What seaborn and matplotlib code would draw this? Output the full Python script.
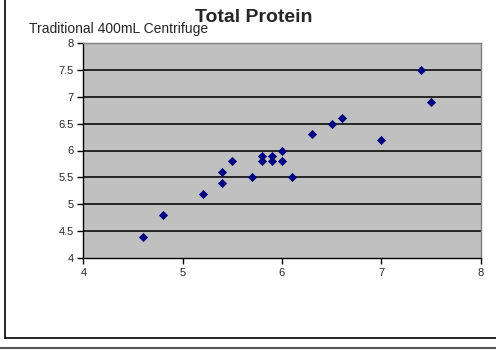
import matplotlib
matplotlib.use("Agg")
import matplotlib.pyplot as plt
import seaborn as sns
import pandas as pd
from matplotlib.lines import Line2D

traditional = [4.6, 4.8, 5.2, 5.4, 5.4, 5.5, 5.7, 5.8, 5.8, 5.9, 5.9, 6.0, 6.0, 6.1, 6.3, 6.5, 6.6, 7.0, 7.4, 7.5]
other = [4.4, 4.8, 5.2, 5.6, 5.4, 5.8, 5.5, 5.9, 5.8, 5.9, 5.8, 6.0, 5.8, 5.5, 6.3, 6.5, 6.6, 6.2, 7.5, 6.9]
x_ticks = [4, 5, 6, 7, 8]
y_ticks = [4, 4.5, 5, 5.5, 6, 6.5, 7, 7.5, 8]
y_tick_labels = ["4", "4.5", "5", "5.5", "6", "6.5", "7", "7.5", "8"]

sns.set_style("white")
plt.rcParams['font.family'] = ['Liberation Sans', 'DejaVu Sans']

df = pd.DataFrame({"x": traditional, "y": other})

fig = plt.figure(figsize=(4.96, 3.5), dpi=100)
ax = fig.add_axes([0.168, 0.262, 0.801, 0.616])
ax.set_facecolor("#C0C0C0")

sns.scatterplot(data=df, x="x", y="y", ax=ax, marker="D", s=17, color="#000080",
                edgecolor="#000080", linewidth=0.5, zorder=3)

ax.set_xlim(4, 8)
ax.set_ylim(4, 8)
ax.set_xticks(x_ticks)
ax.set_xticklabels([str(t) for t in x_ticks])
ax.set_yticks(y_ticks)
ax.set_yticklabels(y_tick_labels)
ax.set_xlabel("")
ax.set_ylabel("")
ax.grid(False)
for yv in y_ticks[1:-1]:
    ax.axhline(yv, color="#1a1a1a", linewidth=1.3, zorder=1)

for s in ["left", "bottom"]:
    ax.spines[s].set_color("black")
    ax.spines[s].set_linewidth(1.0)
for s in ["top", "right"]:
    ax.spines[s].set_color("#808080")
    ax.spines[s].set_linewidth(1.0)

ax.tick_params(axis="both", which="both", direction="out", length=4, width=1, color="black",
               labelsize=8, pad=3, left=True, bottom=True)

fig.text(254/496, 1 - 17.5/350, "Total Protein", ha="center", va="center", fontsize=14, fontweight="bold")
fig.text(29/496, 1 - 29/350, "Traditional 400mL Centrifuge", ha="left", va="center", fontsize=10)

# chart border
fig.add_artist(Line2D([5/496, 5/496], [12/350, 1.02], transform=fig.transFigure, color="black", linewidth=1.2))
fig.add_artist(Line2D([5/496, 1.01], [12/350, 12/350], transform=fig.transFigure, color="black", linewidth=1.2))
fig.add_artist(Line2D([0, 1], [2/350, 2/350], transform=fig.transFigure, color="#555555", linewidth=1.5))

fig.savefig("out.png", dpi=100)
